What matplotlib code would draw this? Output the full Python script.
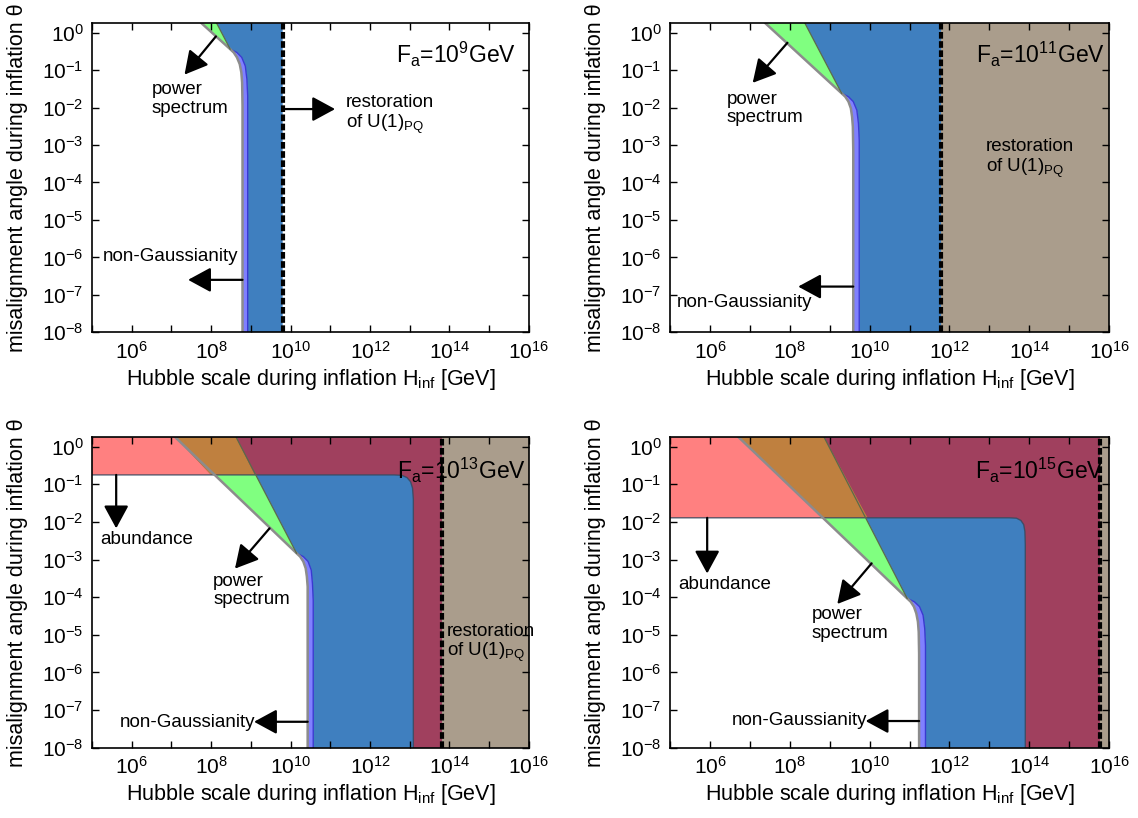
#!/usr/bin/env python

import matplotlib
matplotlib.use("Agg")
import matplotlib.pyplot as plt
import numpy as np
from matplotlib.ticker import FixedLocator, LogFormatterSciNotation, NullFormatter

plt.rcParams["font.family"] = ["Liberation Sans", "DejaVu Sans"]
plt.rcParams["mathtext.fontset"] = "custom"
plt.rcParams["mathtext.rm"] = "Liberation Sans"
plt.rcParams["mathtext.it"] = "Liberation Sans:italic"
plt.rcParams["mathtext.bf"] = "Liberation Sans:bold"

# all values are log10: x = log10(H_inf / GeV), y = log10(theta)
fa_exp = [9, 11, 13, 15]
restore_x = [9.80, 11.79, 13.81, 15.77]
tan_shown = [False, True, True, True]

# power spectrum lines (slope -1 and -2 in log space), where they hit the top, and the knee
ps_top1_x = [7.76, 7.39, 7.10, 6.72]
ps_top2_x = [8.14, 8.38, 8.63, 8.86]
knee_x = [8.48, 9.30, 10.15, 10.94]
knee_y = [-0.44, -1.62, -2.83, -4.03]

# non-Gaussianity boundary (grey) and the edge of the blue region, knee -> bottom
ng_gray_x = [
    [8.48, 8.57, 8.65, 8.72, 8.76, 8.78, 8.79, 8.79],
    [9.30, 9.39, 9.47, 9.53, 9.56, 9.58, 9.59, 9.59],
    [10.15, 10.24, 10.32, 10.38, 10.41, 10.43, 10.43, 10.43],
    [10.94, 11.03, 11.11, 11.17, 11.21, 11.23, 11.24, 11.24],
]
ng_gray_y = [
    [-0.44, -0.53, -0.66, -0.84, -1.06, -1.33, -1.95, -8.0],
    [-1.62, -1.71, -1.84, -2.02, -2.24, -2.51, -3.13, -8.0],
    [-2.83, -2.92, -3.05, -3.23, -3.45, -3.72, -4.30, -8.0],
    [-4.03, -4.12, -4.25, -4.43, -4.65, -4.92, -5.50, -8.0],
]
ng_edge_x = [
    [8.48, 8.65, 8.77, 8.86, 8.90, 8.92, 8.92],
    [9.30, 9.47, 9.59, 9.68, 9.72, 9.74, 9.74],
    [10.15, 10.32, 10.44, 10.52, 10.55, 10.57, 10.57],
    [10.94, 11.12, 11.25, 11.34, 11.38, 11.40, 11.40],
]
ng_edge_y = [
    [-0.44, -0.53, -0.66, -0.89, -1.24, -1.69, -8.0],
    [-1.62, -1.71, -1.84, -2.07, -2.42, -2.87, -8.0],
    [-2.83, -2.92, -3.05, -3.28, -3.63, -4.08, -8.0],
    [-4.03, -4.12, -4.25, -4.48, -4.83, -5.28, -8.0],
]

# abundance boundary (only for the two larger F_a)
abund_x = [
    None,
    None,
    [5.0, 12.60, 12.80, 12.93, 13.02, 13.07, 13.09, 13.09],
    [5.0, 13.50, 13.68, 13.79, 13.86, 13.89, 13.90, 13.90],
]
abund_y = [
    None,
    None,
    [-0.75, -0.75, -0.76, -0.82, -0.93, -1.10, -1.40, -8.0],
    [-1.89, -1.89, -1.90, -1.96, -2.07, -2.25, -2.60, -8.0],
]
abund_cross1 = [None, None, 8.00, 8.86]
abund_cross2 = [None, None, 9.10, 9.95]

# annotations: (x, y) in log10
fa_label_xy = [(12.65, -0.58), (12.66, -0.58), (12.67, -0.62), (12.65, -0.62)]
ps_text_xy = [(6.51, -1.77), (6.41, -2.02), (8.05, -3.82), (8.54, -4.71)]
ps_arrow = [((8.12, -0.10), (7.33, -1.12)), ((7.94, -0.27), (7.07, -1.34)),
            ((9.47, -2.17), (8.60, -3.24)), ((10.05, -3.10), (9.19, -4.18))]
ng_text_xy = [(5.27, -5.98), (5.18, -7.21), (5.70, -7.32), (6.54, -7.27)]
ng_arrow = [((8.79, -6.60), (7.42, -6.60)), ((9.59, -6.78), (8.21, -6.78)),
            ((10.43, -7.31), (9.08, -7.31)), ((11.24, -7.29), (9.90, -7.29))]
ab_text_xy = [None, None, (5.20, -2.46), (5.21, -3.65)]
ab_arrow = [None, None, ((5.61, -0.75), (5.61, -2.17)), ((5.93, -1.89), (5.93, -3.37))]
rs_text_xy = [(11.39, -2.20), (12.91, -3.37), (13.93, -5.23), None]
rs_arrow = [((9.80, -2.04), (11.12, -2.04)), None, None, None]

Y_TOP = 0.25
BLUE = "#3f7fbf"
GREEN = "#80ff80"
PURPLE = "#8080ff"
EDGE = "#3a3ad0"
SALMON = "#ff8080"
ORANGE = "#bf803f"
MAROON = "#a0405e"
TAN = "#aa9d8c"
GREY = "#8c8c8c"


def P(xs, ys):
    return 10.0 ** np.asarray(xs), 10.0 ** np.asarray(ys)


def arrow(ax, start, tip):
    ax.annotate("", xy=(10 ** tip[0], 10 ** tip[1]), xytext=(10 ** start[0], 10 ** start[1]),
                arrowprops=dict(arrowstyle="-|>,head_length=0.7,head_width=0.38",
                                mutation_scale=20, color="k", lw=1.6,
                                shrinkA=0, shrinkB=0), zorder=6)


def draw_panel(ax, i):
    T, B, L, R = Y_TOP, -8.0, 5.0, 16.0
    rx = restore_x[i]

    if tan_shown[i]:
        ax.fill(*P([rx, R, R, rx], [B, B, T, T]), color=TAN, lw=0, zorder=1)

    bx = [ps_top2_x[i]] + ng_edge_x[i] + [rx, rx]
    by = [T] + ng_edge_y[i] + [B, T]
    ax.fill(*P(bx, by), color=BLUE, lw=0, zorder=1)

    ax.fill(*P([ps_top1_x[i], ps_top2_x[i], knee_x[i]], [T, T, knee_y[i]]),
            color=GREEN, lw=0, zorder=1)

    px = ng_gray_x[i] + ng_edge_x[i][::-1]
    py = ng_gray_y[i] + ng_edge_y[i][::-1]
    ax.fill(*P(px, py), color=PURPLE, lw=0, zorder=1)
    ax.plot(*P(ng_edge_x[i], ng_edge_y[i]), color=EDGE, lw=1.0, zorder=2)

    if abund_x[i] is not None:
        y0 = abund_y[i][0]
        c1, c2 = abund_cross1[i], abund_cross2[i]
        ax.fill(*P(abund_x[i] + [rx, rx, L], abund_y[i] + [B, T, T]),
                color=MAROON, lw=0, zorder=1.5)
        ax.fill(*P([L, ps_top1_x[i], c1, L], [T, T, y0, y0]), color=SALMON, lw=0, zorder=1.5)
        ax.fill(*P([ps_top1_x[i], ps_top2_x[i], c2, c1], [T, T, y0, y0]),
                color=ORANGE, lw=0, zorder=1.5)
        ax.plot(*P(abund_x[i], abund_y[i]), color="#34495e", lw=1.0, alpha=0.8, zorder=2)

    # power spectrum lines and non-Gaussianity boundary
    ax.plot(*P([ps_top1_x[i]] + ng_gray_x[i], [T] + ng_gray_y[i]), color=GREY, lw=1.8, zorder=2.5)
    ax.plot(*P([ps_top2_x[i], knee_x[i]], [T, knee_y[i]]), color="#5a6a4a", lw=0.9, zorder=2.5)

    ax.axvline(10 ** rx, color="k", lw=3.0, ls=(0, (1.6, 0.6)), zorder=4)

    ax.text(10 ** fa_label_xy[i][0], 10 ** fa_label_xy[i][1],
            r"F$_{\rm a}$=10$^{%d}$GeV" % fa_exp[i], fontsize=16.5,
            ha="left", va="center", zorder=3)

    ax.text(10 ** ps_text_xy[i][0], 10 ** ps_text_xy[i][1], "power\nspectrum",
            fontsize=13.5, ha="left", va="center", linespacing=1.1, zorder=5)
    arrow(ax, *ps_arrow[i])
    ax.text(10 ** ng_text_xy[i][0], 10 ** ng_text_xy[i][1], "non-Gaussianity",
            fontsize=13.5, ha="left", va="center", zorder=5)
    arrow(ax, *ng_arrow[i])
    if ab_text_xy[i] is not None:
        ax.text(10 ** ab_text_xy[i][0], 10 ** ab_text_xy[i][1], "abundance",
                fontsize=13.5, ha="left", va="center", zorder=5)
        arrow(ax, *ab_arrow[i])
    if rs_text_xy[i] is not None:
        ax.text(10 ** rs_text_xy[i][0], 10 ** rs_text_xy[i][1], "restoration\nof U(1)$_{\\rm PQ}$",
                fontsize=13.5, ha="left", va="center", linespacing=1.1, zorder=5)
    if rs_arrow[i] is not None:
        arrow(ax, *rs_arrow[i])

    ax.set_xscale("log")
    ax.set_yscale("log")
    ax.set_xlim(1e5, 1e16)
    ax.set_ylim(1e-8, 10 ** T)
    ax.xaxis.set_major_locator(FixedLocator([10.0 ** k for k in range(6, 17, 2)]))
    ax.xaxis.set_minor_locator(FixedLocator([10.0 ** k for k in range(5, 16, 2)]))
    ax.xaxis.set_major_formatter(LogFormatterSciNotation())
    ax.xaxis.set_minor_formatter(NullFormatter())
    ax.yaxis.set_major_locator(FixedLocator([10.0 ** k for k in range(-8, 1)]))
    ax.yaxis.set_minor_locator(FixedLocator([]))
    ax.yaxis.set_major_formatter(LogFormatterSciNotation())
    ax.tick_params(which="both", direction="in", top=True, right=True,
                   length=5, width=1.0, labelsize=15, pad=6)
    for s in ax.spines.values():
        s.set_linewidth(1.2)
    ax.set_xlabel("Hubble scale during inflation H$_{\\rm inf}$ [GeV]", fontsize=15.5, labelpad=3)
    ax.set_ylabel("misalignment angle during inflation θ", fontsize=15.5)
    ax.yaxis.set_label_coords(-0.147, 0.5)


fig = plt.figure(figsize=(11.38, 8.18), dpi=100)
positions = [
    [0.0808, 0.5938, 0.3840, 0.3777],
    [0.5888, 0.5938, 0.3858, 0.3777],
    [0.0808, 0.0859, 0.3840, 0.3795],
    [0.5888, 0.0859, 0.3858, 0.3795],
]
for i, pos in enumerate(positions):
    ax = fig.add_axes(pos)
    draw_panel(ax, i)

fig.savefig("out.png", dpi=100)
